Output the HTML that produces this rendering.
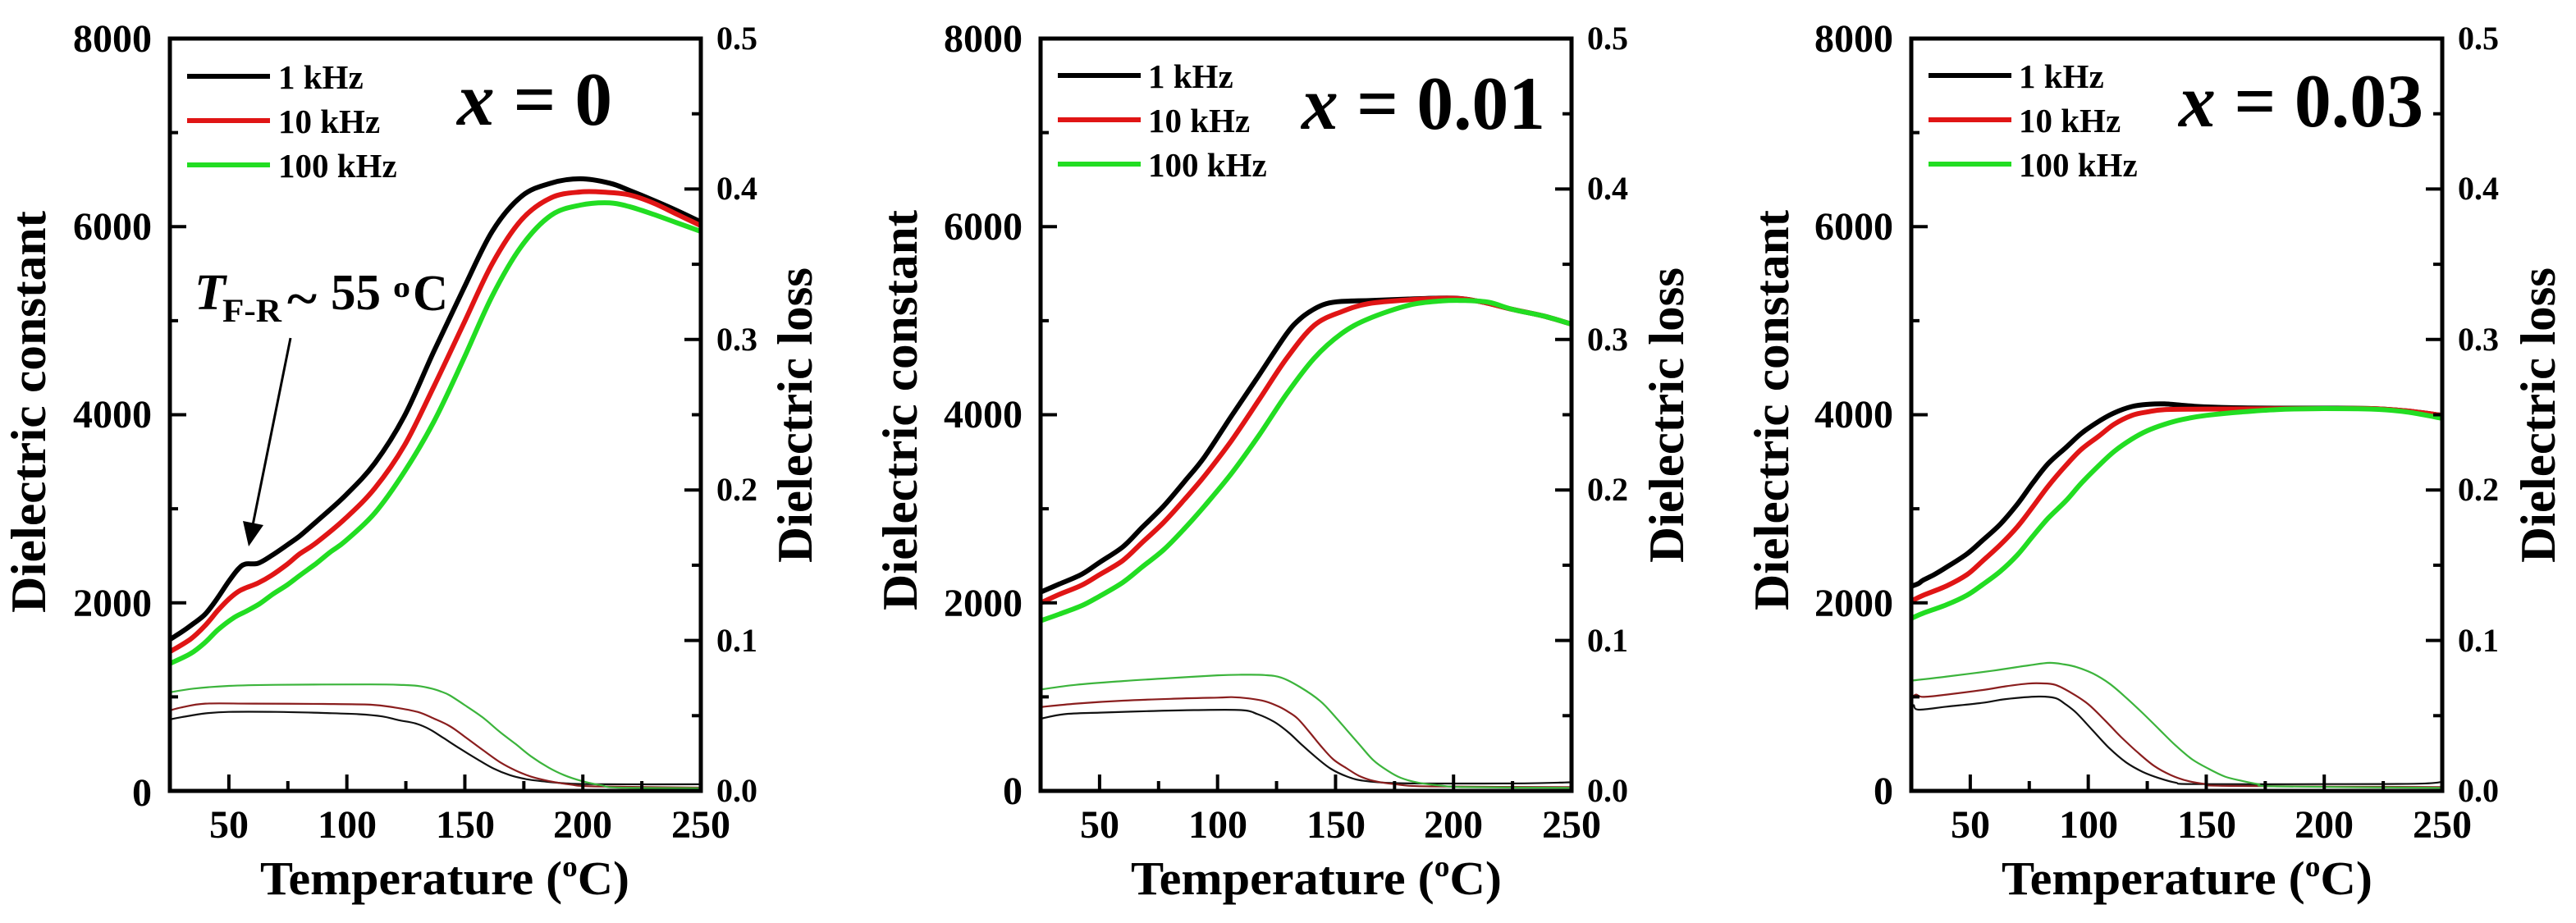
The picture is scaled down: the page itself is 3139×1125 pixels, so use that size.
<!DOCTYPE html>
<html><head><meta charset="utf-8"><style>
html,body{margin:0;padding:0;background:#fff;}
svg{display:block;}
text{font-family:"Liberation Serif","Times New Roman",serif;font-weight:bold;fill:#000;}
.tl{font-size:48px;}
.tr{font-size:40px;}
.lg{font-size:41px;}
.ax{font-size:58px;}
.yl{font-size:60px;}
</style></head><body>
<svg id="s" width="3139" height="1125" viewBox="0 0 3139 1125" xmlns="http://www.w3.org/2000/svg">
<rect width="3139" height="1125" fill="#fff"/>

<!-- Panel 1 -->
<g transform="translate(207,0)">
  <g class="tl" text-anchor="end">
    <text x="-22" y="63">8000</text>
    <text x="-22" y="292">6000</text>
    <text x="-22" y="521">4000</text>
    <text x="-22" y="751">2000</text>
    <text x="-22" y="982">0</text>
  </g>
  <g class="tr">
    <text x="666" y="60">0.5</text>
    <text x="666" y="243">0.4</text>
    <text x="666" y="427">0.3</text>
    <text x="666" y="610">0.2</text>
    <text x="666" y="794">0.1</text>
    <text x="666" y="977">0.0</text>
  </g>
  <g class="tl" text-anchor="middle">
    <text x="72" y="1021">50</text>
    <text x="216" y="1021">100</text>
    <text x="360" y="1021">150</text>
    <text x="503" y="1021">200</text>
    <text x="647" y="1021">250</text>
  </g>
  <text class="ax" x="335" y="1090" text-anchor="middle" textLength="450" lengthAdjust="spacingAndGlyphs">Temperature (<tspan font-size="36" dy="-22">o</tspan><tspan dy="22">C)</tspan></text>
  <text class="yl" transform="translate(-152,502) rotate(-90)" text-anchor="middle" textLength="490" lengthAdjust="spacingAndGlyphs">Dielectric constant</text>
  <text class="yl" transform="translate(782,506) rotate(-90)" text-anchor="middle" textLength="360" lengthAdjust="spacingAndGlyphs">Dielectric loss</text>
  <line x1="21" y1="93" x2="122" y2="93" stroke="#000" stroke-width="6"/>
  <line x1="21" y1="147" x2="122" y2="147" stroke="#e01515" stroke-width="6"/>
  <line x1="21" y1="201" x2="122" y2="201" stroke="#22dd22" stroke-width="6"/>
  <text class="lg" x="132" y="108">1 kHz</text>
  <text class="lg" x="132" y="162">10 kHz</text>
  <text class="lg" x="132" y="216">100 kHz</text>
  <text x="350" y="152" font-size="92" textLength="189" lengthAdjust="spacingAndGlyphs"><tspan font-style="italic">x</tspan> = 0</text>
</g>

<!-- annotation panel 1 -->
<text x="237" y="377" font-size="62" font-style="italic">T</text>
<text x="271" y="392" font-size="40" textLength="72" lengthAdjust="spacingAndGlyphs">F-R</text>
<text x="350" y="384" font-size="60" textLength="36" lengthAdjust="spacingAndGlyphs">~</text>
<text x="403" y="377" font-size="62" textLength="61" lengthAdjust="spacingAndGlyphs">55</text>
<text x="479" y="362" font-size="36" textLength="21" lengthAdjust="spacingAndGlyphs">o</text>
<text x="503" y="378" font-size="62" textLength="43" lengthAdjust="spacingAndGlyphs">C</text>
<line x1="354" y1="412" x2="308" y2="640" stroke="#000" stroke-width="3"/>
<polygon points="303,666 321,640 296,635" fill="#000"/>

<!-- Panel 2 -->
<g transform="translate(1268,0)">
  <g class="tl" text-anchor="end">
    <text x="-22" y="63">8000</text>
    <text x="-22" y="292">6000</text>
    <text x="-22" y="521">4000</text>
    <text x="-22" y="751">2000</text>
    <text x="-22" y="980">0</text>
  </g>
  <g class="tr">
    <text x="666" y="60">0.5</text>
    <text x="666" y="243">0.4</text>
    <text x="666" y="427">0.3</text>
    <text x="666" y="610">0.2</text>
    <text x="666" y="794">0.1</text>
    <text x="666" y="977">0.0</text>
  </g>
  <g class="tl" text-anchor="middle">
    <text x="72" y="1021">50</text>
    <text x="216" y="1021">100</text>
    <text x="360" y="1021">150</text>
    <text x="503" y="1021">200</text>
    <text x="647" y="1021">250</text>
  </g>
  <text class="ax" x="336" y="1090" text-anchor="middle" textLength="452" lengthAdjust="spacingAndGlyphs">Temperature (<tspan font-size="36" dy="-22">o</tspan><tspan dy="22">C)</tspan></text>
  <text class="yl" transform="translate(-151,500) rotate(-90)" text-anchor="middle" textLength="488" lengthAdjust="spacingAndGlyphs">Dielectric constant</text>
  <text class="yl" transform="translate(783,506) rotate(-90)" text-anchor="middle" textLength="360" lengthAdjust="spacingAndGlyphs">Dielectric loss</text>
  <line x1="21" y1="92" x2="122" y2="92" stroke="#000" stroke-width="6"/>
  <line x1="21" y1="146" x2="122" y2="146" stroke="#e01515" stroke-width="6"/>
  <line x1="21" y1="200" x2="122" y2="200" stroke="#22dd22" stroke-width="6"/>
  <text class="lg" x="131" y="107">1 kHz</text>
  <text class="lg" x="131" y="161">10 kHz</text>
  <text class="lg" x="131" y="215">100 kHz</text>
  <text x="318" y="157" font-size="92" textLength="297" lengthAdjust="spacingAndGlyphs"><tspan font-style="italic">x</tspan> = 0.01</text>
</g>

<!-- Panel 3 -->
<g transform="translate(2329,0)">
  <g class="tl" text-anchor="end">
    <text x="-22" y="63">8000</text>
    <text x="-22" y="292">6000</text>
    <text x="-22" y="521">4000</text>
    <text x="-22" y="751">2000</text>
    <text x="-22" y="980">0</text>
  </g>
  <g class="tr">
    <text x="666" y="60">0.5</text>
    <text x="666" y="243">0.4</text>
    <text x="666" y="427">0.3</text>
    <text x="666" y="610">0.2</text>
    <text x="666" y="794">0.1</text>
    <text x="666" y="977">0.0</text>
  </g>
  <g class="tl" text-anchor="middle">
    <text x="72" y="1021">50</text>
    <text x="216" y="1021">100</text>
    <text x="360" y="1021">150</text>
    <text x="503" y="1021">200</text>
    <text x="647" y="1021">250</text>
  </g>
  <text class="ax" x="336" y="1090" text-anchor="middle" textLength="452" lengthAdjust="spacingAndGlyphs">Temperature (<tspan font-size="36" dy="-22">o</tspan><tspan dy="22">C)</tspan></text>
  <text class="yl" transform="translate(-150,500) rotate(-90)" text-anchor="middle" textLength="488" lengthAdjust="spacingAndGlyphs">Dielectric constant</text>
  <text class="yl" transform="translate(784,506) rotate(-90)" text-anchor="middle" textLength="360" lengthAdjust="spacingAndGlyphs">Dielectric loss</text>
  <line x1="21" y1="92" x2="122" y2="92" stroke="#000" stroke-width="6"/>
  <line x1="21" y1="146" x2="122" y2="146" stroke="#e01515" stroke-width="6"/>
  <line x1="21" y1="200" x2="122" y2="200" stroke="#22dd22" stroke-width="6"/>
  <text class="lg" x="131" y="107">1 kHz</text>
  <text class="lg" x="131" y="161">10 kHz</text>
  <text class="lg" x="131" y="215">100 kHz</text>
  <text x="326" y="154" font-size="92" textLength="298" lengthAdjust="spacingAndGlyphs"><tspan font-style="italic">x</tspan> = 0.03</text>
</g>

<g id="dyn"></g>
</svg>
<script>
(function(){
var NS="http://www.w3.org/2000/svg";
var svg=document.getElementById("dyn");
var TOP=47,BOT=964,W=647,SX=W/225;
function el(n,a){var e=document.createElementNS(NS,n);for(var k in a)e.setAttribute(k,a[k]);return e;}
function pth(arr,L,loss){
  var p=[];
  for(var i=0;i<arr.length;i+=2){
    var x=L+(arr[i]-25)*SX;
    var y=loss?BOT-arr[i+1]*(BOT-TOP)/0.5:BOT-arr[i+1]*(BOT-TOP)/8000;
    p.push([x,y]);
  }
  var s="M"+p[0][0].toFixed(1)+","+p[0][1].toFixed(1);
  for(var j=0;j<p.length-1;j++){
    var p0=p[j-1]||p[j],p1=p[j],p2=p[j+1],p3=p[j+2]||p[j+1];
    var c1x=p1[0]+(p2[0]-p0[0])/6,c1y=p1[1]+(p2[1]-p0[1])/6;
    var c2x=p2[0]-(p3[0]-p1[0])/6,c2y=p2[1]-(p3[1]-p1[1])/6;
    s+="C"+c1x.toFixed(1)+","+c1y.toFixed(1)+" "+c2x.toFixed(1)+","+c2y.toFixed(1)+" "+p2[0].toFixed(1)+","+p2[1].toFixed(1);
  }
  return s;
}
var P=[
{L:207,
k:[25,1610,30,1690,34.9,1778,40,1880,44.9,2040,50,2230,54,2360,57,2412,62.3,2420,68,2500,74.7,2615,80,2710,87.1,2864,99.5,3144,111.9,3487,124.4,3987,136.8,4671,149.2,5325,161.6,5950,174,6322,186.5,6463,198.9,6509,211.3,6463,219.7,6386,230,6280,240,6170,250,6050],
r:[25,1480,33.8,1615,40,1760,45.4,1921,50,2040,54,2120,57.3,2160,62.3,2210,68,2290,74.7,2410,80,2520,87.1,2640,99.5,2900,111.9,3220,124.4,3674,136.8,4297,149.2,4952,161.6,5606,174,6073,186.5,6307,198.9,6369,210,6365,219.7,6338,230,6250,240,6130,250,6010],
g:[25,1354,33.8,1460,40,1580,45.4,1714,52,1840,57.3,1910,63,1990,68.5,2090,74.7,2190,80,2290,87.1,2420,93,2540,99.5,2660,111.9,2957,124.4,3394,136.8,3923,149.2,4577,161.6,5263,174,5793,186.5,6120,198.9,6229,211.3,6253,219.7,6213,230,6130,240,6040,250,5950],
kl:[25,.0475,30,.049,40,.0515,50,.0525,70,.0525,90,.0518,105,.051,115,.0495,122,.047,129,.0449,135,.041,141,.0351,148,.028,155,.0213,162,.015,169,.0105,176,.0078,183,.0064,195,.0048,210,.0044,250,.0044],
rl:[25,.0535,30,.0555,40,.058,60,.058,90,.0578,110,.0573,120,.0555,130,.0525,137,.048,143.6,.0431,150,.036,157.5,.0273,165,.019,171.5,.0136,178,.0095,185.5,.0066,195,.0042,205,.003,250,.0022],
gl:[25,.0655,35,.068,50,.0698,70,.0705,110,.0708,124,.0704,130,.0698,136,.068,140,.066,143.6,.0635,150,.057,157.5,.0489,165,.039,171.5,.0312,178,.023,185.5,.0155,192,.0105,199.5,.0066,208,.0037,215,.0022,250,.0018]},
{L:1268,
k:[25,2114,33,2200,42.4,2303,50,2430,59.8,2594,68,2800,77.2,3030,86,3290,94.5,3553,106,3990,117.7,4426,129.3,4862,135,5020,140.9,5124,146,5180,152.5,5205,165,5215,181.5,5230,200,5240,212,5200,225,5120,238,5050,250,4964],
r:[25,1998,33,2090,42.4,2187,50,2300,59.8,2449,68,2640,77.2,2856,86,3100,94.5,3350,106,3728,117.7,4164,129.3,4600,140.9,4949,152.5,5095,164.1,5182,181.5,5222,200,5238,212,5200,225,5120,238,5050,250,4964],
g:[25,1809,33,1880,42.4,1969,50,2070,59.8,2216,68,2380,77.2,2565,86,2790,94.5,3030,106,3379,117.7,3786,129.3,4222,140.9,4600,152.5,4862,164.1,5022,181.5,5167,195,5210,205,5214,215,5195,225,5120,238,5050,250,4964],
kl:[25,.048,35,.051,50,.052,70,.053,90,.0537,110,.0537,117,.051,124,.0459,130,.039,136,.0302,142,.022,148,.0147,155,.0095,162,.0067,175,.0052,200,.0049,230,.005,245,.0055,250,.0058],
rl:[25,.0557,40,.058,60,.06,80,.0612,100,.062,106,.0623,113,.0615,120,.0596,126,.056,130,.0525,134,.048,139,.039,143.6,.0302,149,.021,155,.0147,160,.01,166,.0067,175,.0045,190,.003,250,.0025],
gl:[25,.0674,40,.0705,60,.073,80,.075,100,.0768,110,.0772,120,.077,127,.0753,135,.069,143.6,.0596,150,.049,155,.04,160,.031,166,.0204,172,.0135,177.6,.0087,185,.0055,195,.0035,205,.0025,250,.002]},
{L:2329,
k:[25,2175,28,2205,30,2240,34.7,2300,40,2380,48.6,2520,55,2660,62.6,2833,70,3050,76.5,3275,83,3480,90.5,3650,97,3800,104.5,3930,111,4020,118.5,4087,125,4110,132.4,4115,145,4090,160,4075,180,4070,200,4070,220,4065,235,4040,250,3993],
r:[25,2018,30,2080,40,2180,48.6,2300,55,2440,62.6,2614,70,2810,76.5,3021,83,3240,90.5,3460,97,3630,104.5,3773,111,3900,118.5,3993,125,4030,132.4,4055,150,4060,200,4065,220,4065,235,4040,250,3993],
g:[25,1834,30,1890,40,1980,48.6,2081,55,2190,62.6,2332,70,2510,76.5,2708,83,2900,90.5,3083,97,3270,104.5,3460,111,3610,118.5,3742,125,3830,132.4,3899,140,3950,150,3993,165,4030,180,4055,200,4065,220,4060,235,4030,250,3962],
kl:[25,.0537,26,.057,28,.054,40,.056,55,.0585,65,.061,79,.0627,86,.0617,90,.058,95,.0518,102,.04,109,.0283,116,.019,123,.0127,130,.0085,137,.0055,145,.0045,200,.0045,240,.0048,250,.006],
rl:[25,.0617,27,.064,30,.0625,40,.064,55,.067,65,.0695,74.4,.0713,80,.0715,86,.0705,93,.065,100,.0576,107,.047,113.8,.036,121,.0255,128,.0165,135,.0105,142,.0067,150,.0045,160,.0033,250,.0025],
gl:[25,.0733,40,.076,60,.08,75,.0835,83.6,.0851,90,.084,95,.0823,102,.078,109,.0713,116,.062,123,.0518,130,.041,137,.0302,144,.021,151,.0147,158,.0095,165,.0067,172,.0045,180,.003,250,.002]}
];
P.forEach(function(o,idx){
  var L=o.L,R=L+W;
  var cid="clp"+idx;
  var cp=el("clipPath",{id:cid});cp.appendChild(el("rect",{x:L,y:TOP,width:W,height:BOT-TOP}));svg.appendChild(cp);
  var g=el("g",{"clip-path":"url(#"+cid+")",fill:"none","stroke-linejoin":"round","stroke-linecap":"round"});
  g.appendChild(el("path",{d:pth(o.kl,L,1),stroke:"#111","stroke-width":2.2}));
  g.appendChild(el("path",{d:pth(o.rl,L,1),stroke:"#8a1e1e","stroke-width":2.2}));
  g.appendChild(el("path",{d:pth(o.gl,L,1),stroke:"#3cb43c","stroke-width":2.2}));
  g.appendChild(el("path",{d:pth(o.k,L,0),stroke:"#000","stroke-width":6}));
  g.appendChild(el("path",{d:pth(o.r,L,0),stroke:"#e01515","stroke-width":6}));
  g.appendChild(el("path",{d:pth(o.g,L,0),stroke:"#22dd22","stroke-width":6}));
  svg.appendChild(g);
  var t=el("g",{stroke:"#000","stroke-width":4});
  var i,y,x;
  for(i=1;i<8;i++){y=BOT-i*(BOT-TOP)/8;var len=(i%2==0)?20:10;t.appendChild(el("line",{x1:L,y1:y,x2:L+len,y2:y}));}
  for(i=1;i<10;i++){y=BOT-i*(BOT-TOP)/10;var len2=(i%2==0)?20:11;t.appendChild(el("line",{x1:R-len2,y1:y,x2:R,y2:y}));}
  for(i=1;i<9;i++){x=L+i*25*SX;var len3=(i%2==1)?20:12;t.appendChild(el("line",{x1:x,y1:BOT-len3,x2:x,y2:BOT}));}
  svg.appendChild(t);
  svg.appendChild(el("rect",{x:L,y:TOP,width:W,height:BOT-TOP,fill:"none",stroke:"#000","stroke-width":5}));
});
})();
</script>
</body></html>
